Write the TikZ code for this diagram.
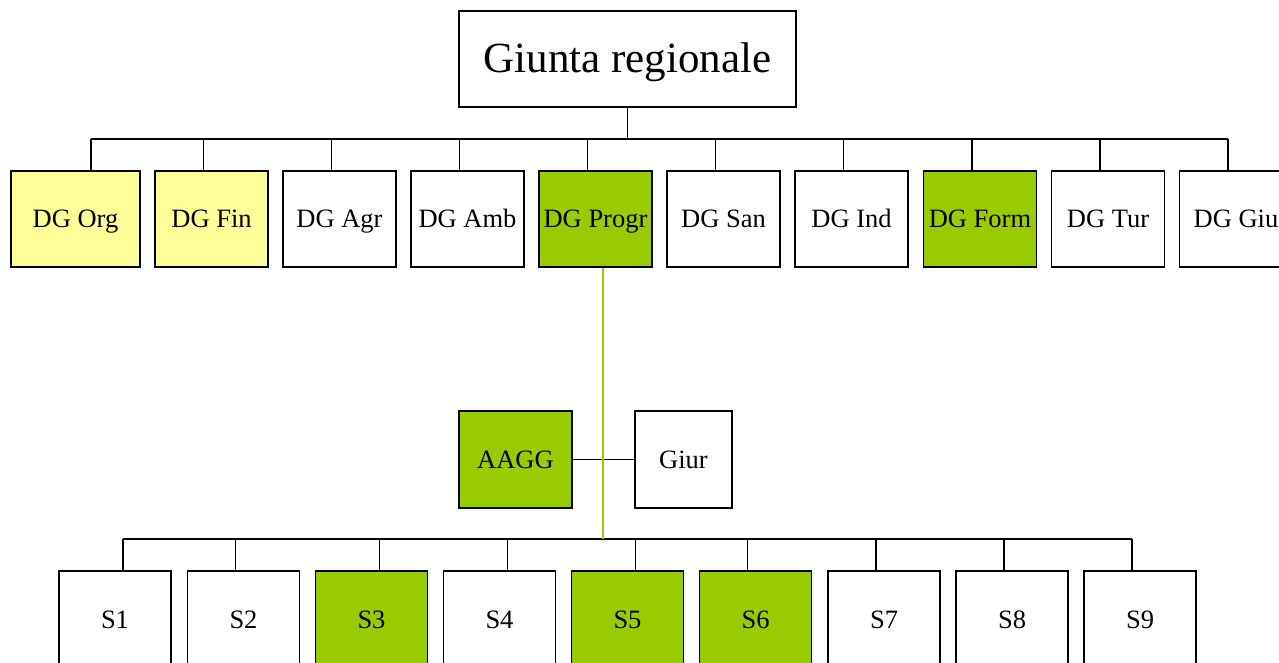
\documentclass[tikz,border=0pt]{standalone}
\usepackage{fontspec}
\setmainfont{Liberation Serif}
\usepackage{xcolor}
\usepackage{tikz}

\definecolor{verde}{HTML}{99CC00}
\definecolor{giallo}{HTML}{FFFF99}

\tikzset{
	ufficio/.style={draw,line width=1.5pt,inner sep=0pt,minimum width=113pt,minimum height=96pt,
		font=\fontsize{26.5}{26.5}\selectfont,text height=17.6pt,text depth=0pt},
	settore/.style={ufficio,minimum width=112pt,minimum height=97pt},
	attivo/.style={fill=verde},
	staff/.style={fill=giallo},
	conn/.style={line width=1.3pt},
	filo/.style={line width=1.3pt,verde}
}

\begin{document}
\begin{tikzpicture}[x=1pt,y=-1pt]
	 \clip (0,0) rectangle (1279,663);
	 \fill[white] (0,0) rectangle (1279,663);
	 \node[ufficio,minimum width=337pt,font=\fontsize{43}{43}\selectfont,text height=28pt] (giunta) at (627.5,59) {Giunta regionale};
	 % direzioni generali
	 \node[ufficio,staff,minimum width=129pt] (dgorg) at (75.5,219) {DG Org};
	 \node[ufficio,staff] (dgfin) at (211.5,219) {DG Fin};
	 \node[ufficio] (dgagr) at (339.5,219) {DG Agr};
	 \node[ufficio] (dgamb) at (467.5,219) {DG Amb};
	 \node[ufficio,attivo] (dgprogr) at (595.5,219) {DG Progr};
	 \node[ufficio] (dgsan) at (723.5,219) {DG San};
	 \node[ufficio] (dgind) at (851.5,219) {DG Ind};
	 \node[ufficio,attivo] (dgform) at (980,219) {DG Form};
	 \node[ufficio] (dgtur) at (1108,219) {DG Tur};
	 \node[ufficio] (dggiu) at (1236,219) {DG Giu};
	 % staff
	 \node[ufficio,attivo,minimum height=97pt] (aagg) at (515.5,459.5) {AAGG};
	 \node[ufficio,minimum width=97pt,minimum height=97pt] (giur) at (683.5,459.5) {Giur};
	 % settori
	 \node[settore] (s1) at (115,619.5) {S1};
	 \node[settore] (s2) at (243.5,619.5) {S2};
	 \node[settore,attivo] (s3) at (371.5,619.5) {S3};
	 \node[settore] (s4) at (499.5,619.5) {S4};
	 \node[settore,attivo] (s5) at (627.5,619.5) {S5};
	 \node[settore,attivo] (s6) at (755.5,619.5) {S6};
	 \node[settore] (s7) at (884,619.5) {S7};
	 \node[settore] (s8) at (1012,619.5) {S8};
	 \node[settore] (s9) at (1140,619.5) {S9};
	 % linee
	 \coordinate (busdg) at (91,139);
	 \coordinate (buss) at (123,539);
	 \draw[conn] (giunta.south) -- (giunta.south |- busdg);
	 \draw[conn] (busdg) -- ([xshift=-8pt]dggiu.north |- busdg);
	 \draw[conn] ([xshift=15.5pt]dgorg.north) -- ([xshift=15.5pt]dgorg.north |- busdg);
	 \draw[conn] ([xshift=-8pt]dgfin.north) -- ([xshift=-8pt]dgfin.north |- busdg);
	 \draw[conn] ([xshift=-8pt]dgagr.north) -- ([xshift=-8pt]dgagr.north |- busdg);
	 \draw[conn] ([xshift=-8pt]dgamb.north) -- ([xshift=-8pt]dgamb.north |- busdg);
	 \draw[conn] ([xshift=-8pt]dgprogr.north) -- ([xshift=-8pt]dgprogr.north |- busdg);
	 \draw[conn] ([xshift=-8pt]dgsan.north) -- ([xshift=-8pt]dgsan.north |- busdg);
	 \draw[conn] ([xshift=-8pt]dgind.north) -- ([xshift=-8pt]dgind.north |- busdg);
	 \draw[conn] ([xshift=-8pt]dgform.north) -- ([xshift=-8pt]dgform.north |- busdg);
	 \draw[conn] ([xshift=-8pt]dgtur.north) -- ([xshift=-8pt]dgtur.north |- busdg);
	 \draw[conn] ([xshift=-8pt]dggiu.north) -- ([xshift=-8pt]dggiu.north |- busdg);
	 \draw[conn] (aagg) -- (giur);
	 \draw[conn] (buss) -- ([xshift=-8pt]s9.north |- buss);
	 \draw[conn] ([xshift=8pt]s1.north) -- ([xshift=8pt]s1.north |- buss);
	 \draw[conn] ([xshift=-8pt]s2.north) -- ([xshift=-8pt]s2.north |- buss);
	 \draw[conn] ([xshift=8pt]s3.north) -- ([xshift=8pt]s3.north |- buss);
	 \draw[conn] ([xshift=8pt]s4.north) -- ([xshift=8pt]s4.north |- buss);
	 \draw[conn] ([xshift=8pt]s5.north) -- ([xshift=8pt]s5.north |- buss);
	 \draw[conn] ([xshift=-8pt]s6.north) -- ([xshift=-8pt]s6.north |- buss);
	 \draw[conn] ([xshift=-8pt]s7.north) -- ([xshift=-8pt]s7.north |- buss);
	 \draw[conn] ([xshift=-8pt]s8.north) -- ([xshift=-8pt]s8.north |- buss);
	 \draw[conn] ([xshift=-8pt]s9.north) -- ([xshift=-8pt]s9.north |- buss);
	 \draw[filo] ([xshift=7.5pt]dgprogr.south) -- ([xshift=7.5pt]dgprogr.south |- buss);
\end{tikzpicture}
\end{document}
